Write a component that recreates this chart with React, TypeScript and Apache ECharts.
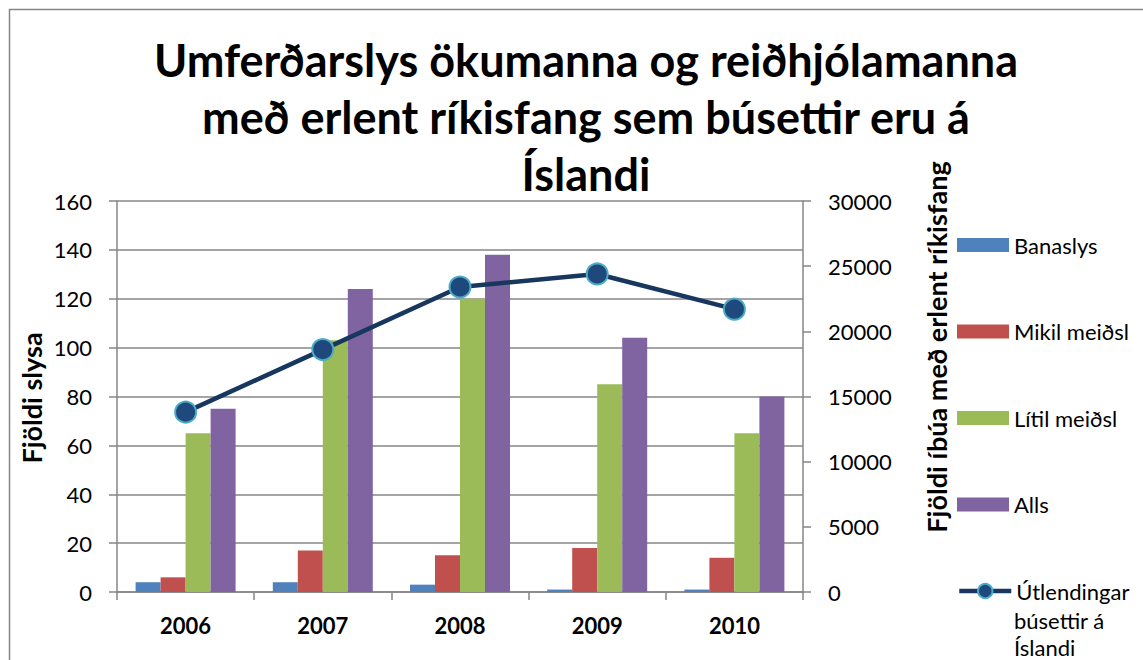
import React, { useEffect, useRef } from "react";
import * as echarts from "echarts";

const years = ["2006", "2007", "2008", "2009", "2010"];
const banaslys = [4, 4, 3, 1, 1];
const mikilMeidsl = [6, 17, 15, 18, 14];
const litilMeidsl = [65, 103, 120, 85, 65];
const alls = [75, 124, 138, 104, 80];
const utlendingar = [13800, 18600, 23400, 24400, 21700];

const titleText = "Umferðarslys ökumanna og reiðhjólamanna\nmeð erlent ríkisfang sem búsettir eru á\nÍslandi";
const lineName = "Útlendingar búsettir á Íslandi";
const FONT = "Lato";
const GRID = "#868686";

export default function App() {
  const ref = useRef<HTMLDivElement>(null);
  useEffect(() => {
    const chart = echarts.init(ref.current!, null, { renderer: "svg" });
    const barBase = {
      type: "bar",
      barWidth: 25,
      barGap: "0%",
      yAxisIndex: 0,
    };
    const legendText = { fontFamily: FONT, fontSize: 22, lineHeight: 26, color: "#000" };
    chart.setOption({
      animation: false,
      textStyle: { fontFamily: FONT },
      title: {
        text: titleText,
        left: 581,
        top: 26,
        textAlign: "center",
        textStyle: { fontFamily: FONT, fontWeight: "bold", fontSize: 45, lineHeight: 57, color: "#000" },
      },
      grid: { left: 117, right: 340, top: 201, bottom: 68 },
      legend: [
        {
          orient: "vertical",
          left: 952,
          top: 227,
          itemWidth: 52,
          itemHeight: 14,
          itemGap: 60.5,
          icon: "rect",
          data: ["Banaslys", "Mikil meiðsl", "Lítil meiðsl", "Alls"],
          textStyle: legendText,
        },
        {
          orient: "vertical",
          left: 952,
          top: 573,
          itemWidth: 52,
          itemHeight: 18,
          data: [lineName],
          formatter: () => "Útlendingar",
          lineStyle: { width: 4.5, color: "#17375E" },
          textStyle: legendText,
        },
      ],
      xAxis: {
        type: "category",
        data: years,
        axisLine: { lineStyle: { color: GRID, width: 1.5 } },
        axisTick: { show: true, length: 8, lineStyle: { color: GRID, width: 1.5 } },
        axisLabel: { margin: 22, fontFamily: FONT, fontWeight: "bold", fontSize: 22, color: "#000" },
      },
      yAxis: [
        {
          type: "value",
          min: 0,
          max: 160,
          interval: 20,
          axisLine: { show: true, lineStyle: { color: GRID, width: 1.5 } },
          axisTick: { show: true, length: 8, lineStyle: { color: GRID, width: 1.5 } },
          axisLabel: { margin: 25, fontFamily: FONT, fontSize: 22, color: "#000" },
          splitLine: { show: true, lineStyle: { color: GRID, width: 1.5 } },
        },
        {
          type: "value",
          min: 0,
          max: 30000,
          interval: 5000,
          position: "right",
          axisLine: { show: true, lineStyle: { color: GRID, width: 1.5 } },
          axisTick: { show: true, length: 8, lineStyle: { color: GRID, width: 1.5 } },
          axisLabel: { margin: 25, fontFamily: FONT, fontSize: 22, color: "#000", formatter: (v: number) => String(v) },
          splitLine: { show: false },
        },
      ],
      series: [
        { ...barBase, name: "Banaslys", data: banaslys, itemStyle: { color: "#4F81BD" } },
        { ...barBase, name: "Mikil meiðsl", data: mikilMeidsl, itemStyle: { color: "#C0504D" } },
        { ...barBase, name: "Lítil meiðsl", data: litilMeidsl, itemStyle: { color: "#9BBB59" } },
        { ...barBase, name: "Alls", data: alls, itemStyle: { color: "#8064A2" } },
        {
          type: "line",
          name: lineName,
          yAxisIndex: 1,
          data: utlendingar,
          z: 5,
          symbol: "circle",
          symbolSize: 21,
          lineStyle: { color: "#17375E", width: 4.5 },
          itemStyle: { color: "#1F497D", borderColor: "#4BACC6", borderWidth: 2 },
        },
      ],
      graphic: [
        {
          type: "rect",
          shape: { x: 9.5, y: 9.5, width: 1300, height: 800 },
          style: { fill: "none", stroke: GRID, lineWidth: 1.5 },
          silent: true,
        },
        {
          type: "text",
          x: 31,
          y: 398,
          rotation: Math.PI / 2,
          style: { text: "Fjöldi slysa", fontFamily: FONT, fontWeight: "bold", fontSize: 27, fill: "#000", align: "center", verticalAlign: "middle" },
        },
        {
          type: "text",
          x: 936,
          y: 347,
          rotation: Math.PI / 2,
          style: { text: "Fjöldi íbúa með erlent ríkisfang", fontFamily: FONT, fontWeight: "bold", fontSize: 27, fill: "#000", align: "center", verticalAlign: "middle" },
        },
        {
          type: "text",
          x: 1014,
          y: 620,
          style: { text: "búsettir á", fontFamily: FONT, fontSize: 22, fill: "#000", align: "left", verticalAlign: "middle" },
        },
        {
          type: "text",
          x: 1014,
          y: 647,
          style: { text: "Íslandi", fontFamily: FONT, fontSize: 22, fill: "#000", align: "left", verticalAlign: "middle" },
        },
      ],
    });
    return () => chart.dispose();
  }, []);
  return (
    <div
      ref={ref}
      style={{ position: "fixed", left: 0, top: 0, width: 1143, height: 660, background: "#fff" }}
    />
  );
}
